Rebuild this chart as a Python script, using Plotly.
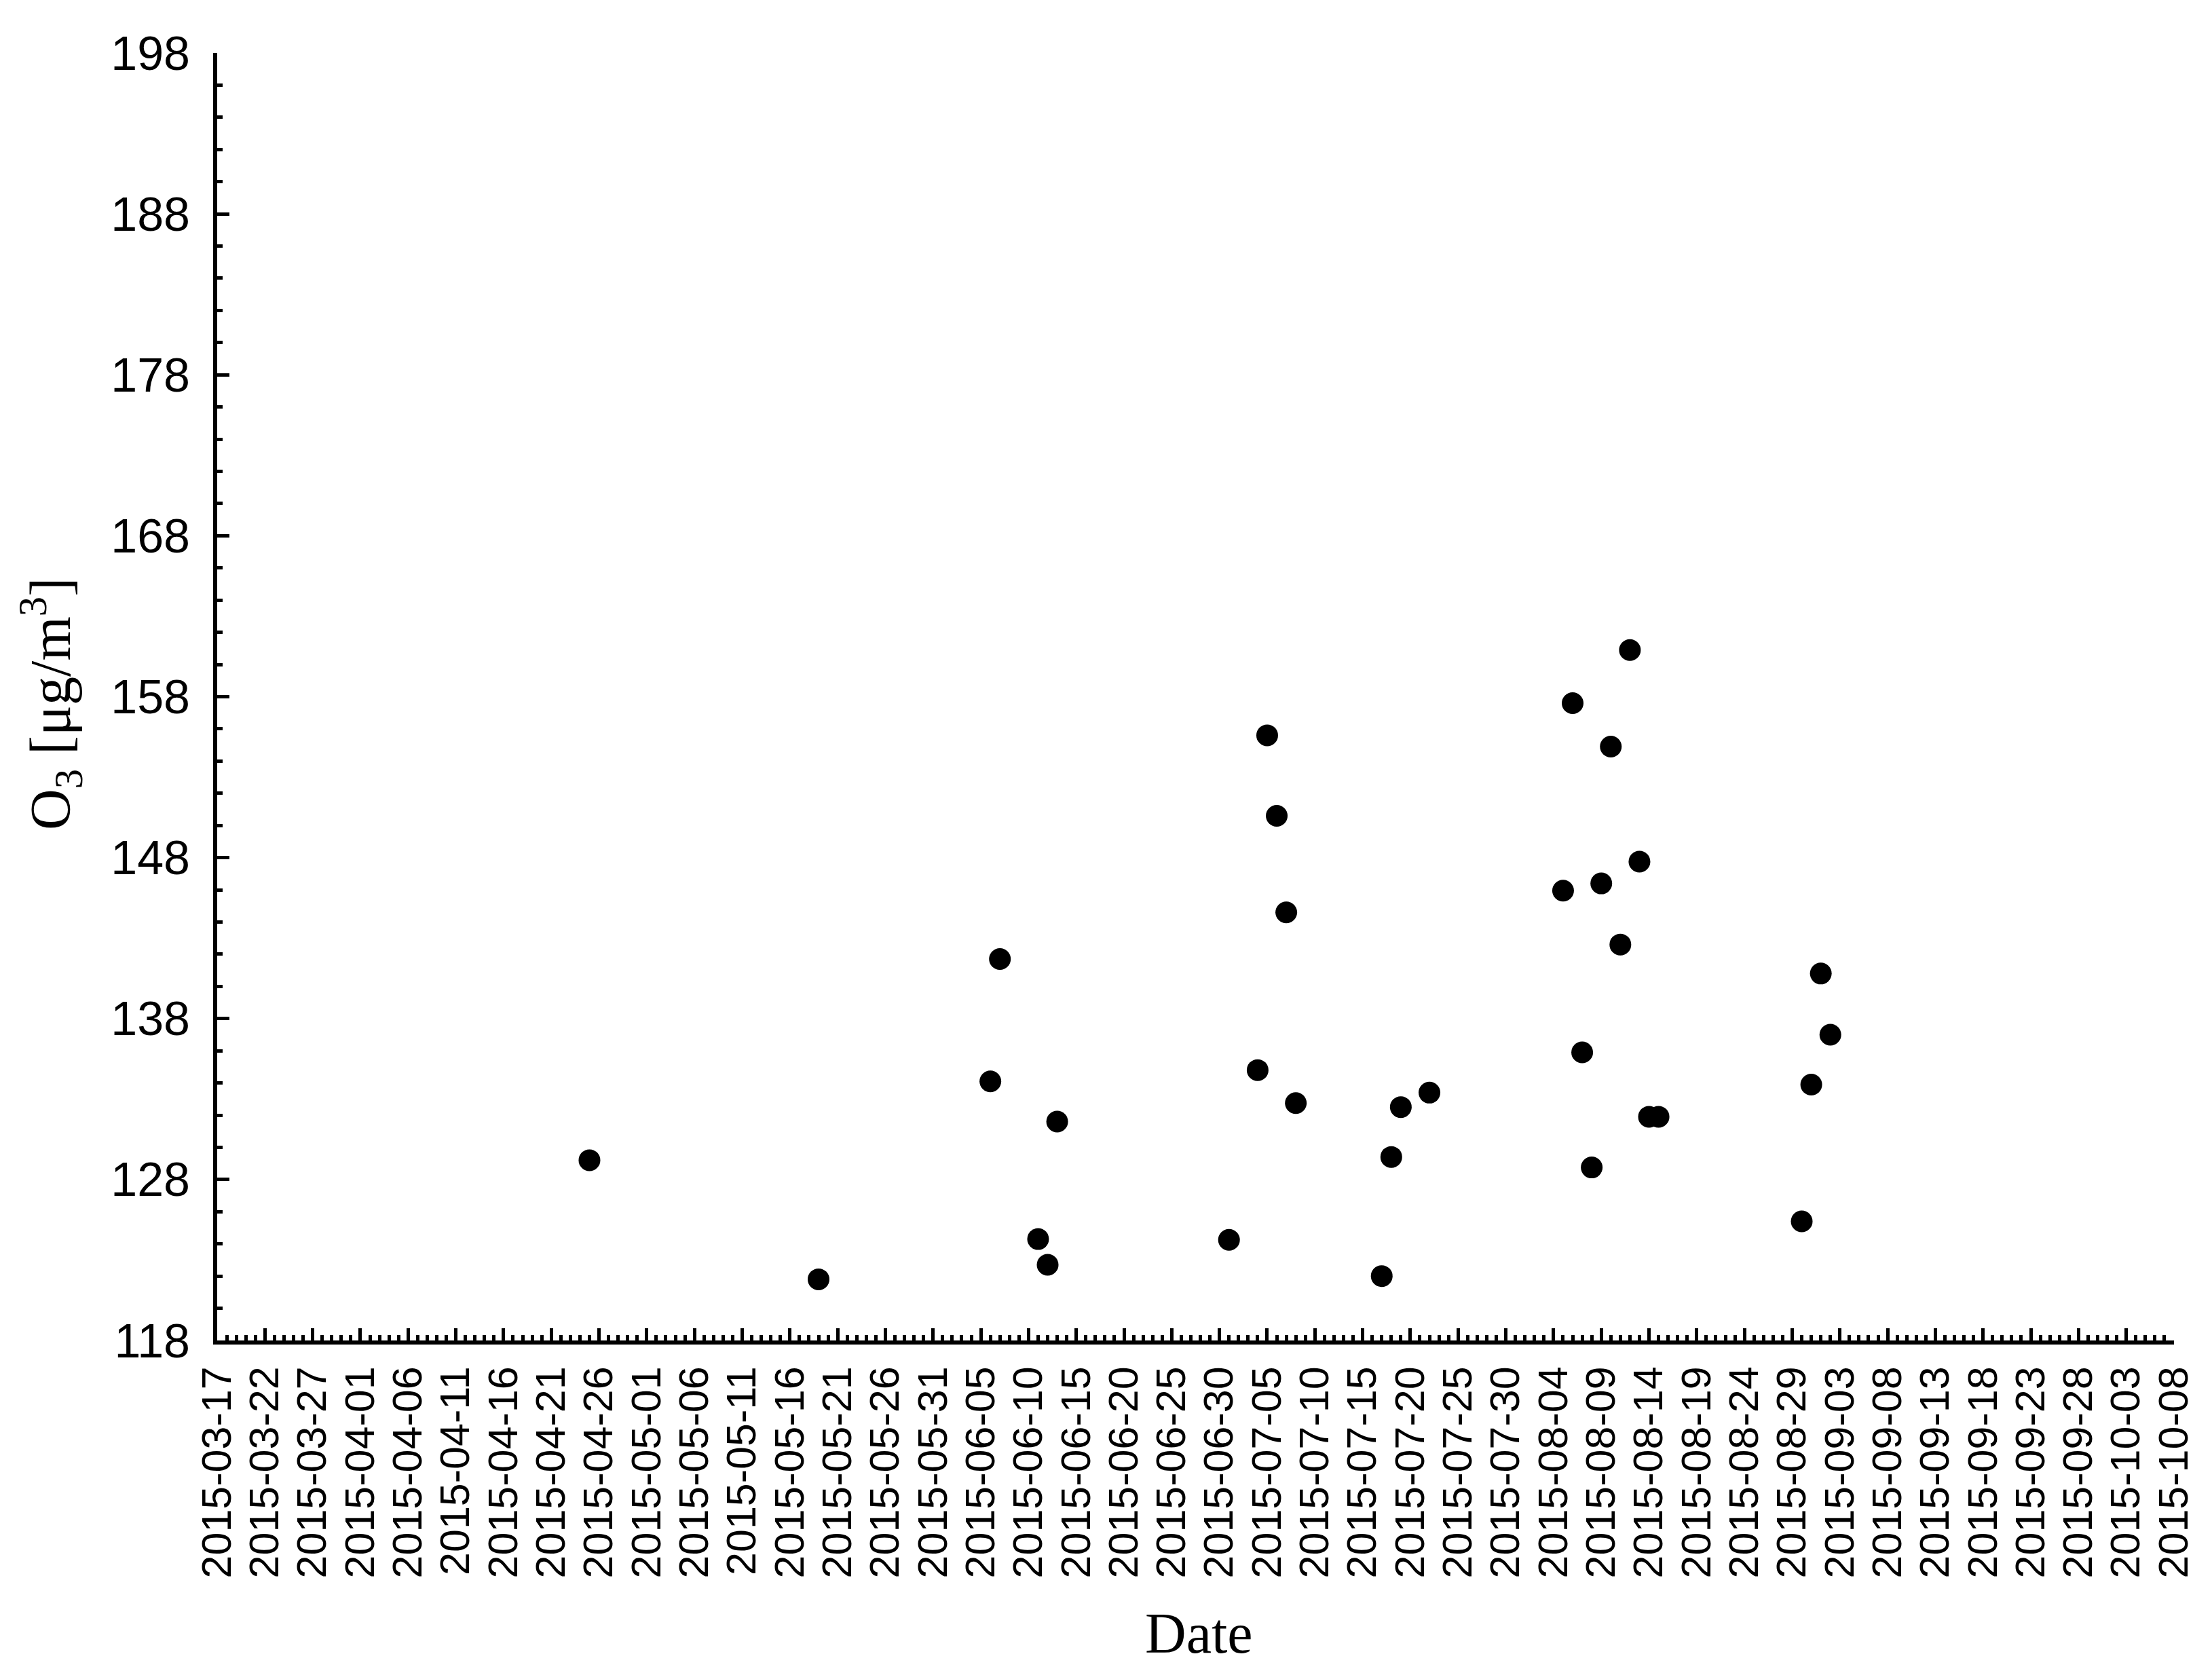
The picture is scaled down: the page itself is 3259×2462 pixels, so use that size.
import plotly.graph_objects as go

dates = ["2015-04-25", "2015-05-19", "2015-06-06", "2015-06-07", "2015-06-11", "2015-06-12",
         "2015-06-13", "2015-07-01", "2015-07-04", "2015-07-05", "2015-07-06", "2015-07-07",
         "2015-07-08", "2015-07-17", "2015-07-18", "2015-07-19", "2015-07-22", "2015-08-05",
         "2015-08-06", "2015-08-07", "2015-08-08", "2015-08-09", "2015-08-10", "2015-08-11",
         "2015-08-12", "2015-08-13", "2015-08-14", "2015-08-15", "2015-08-30", "2015-08-31",
         "2015-09-01", "2015-09-02"]
o3 = [129.2, 121.8, 134.1, 141.7, 124.3, 122.7,
      131.6, 124.25, 134.8, 155.6, 150.6, 144.6,
      132.75, 122.0, 129.4, 132.5, 133.4, 145.95,
      157.6, 135.9, 128.75, 146.4, 154.9, 142.6,
      160.9, 147.75, 131.9, 131.9, 125.4, 133.9,
      140.8, 137.0]

x_range = ["2015-03-17", "2015-10-08"]
y_range = [118, 198]

OFF = 8  # default body margin of the html page
W, H = 3259 - OFF, 2462 - OFF
ML, MT = 320 - OFF, 78 - OFF
MR = W + OFF - 3203
MB = H + OFF - 1975
PW = W - ML - MR
PH = H - MT - MB

fig = go.Figure()
fig.add_trace(go.Scatter(
    x=dates, y=o3, mode="markers",
    marker=dict(color="black", size=32, line=dict(width=0)),
    showlegend=False,
))

DAY = 86400000

fig.update_layout(
    width=W, height=H, autosize=False,
    margin=dict(l=ML, r=MR, t=MT, b=MB, pad=0),
    paper_bgcolor="white", plot_bgcolor="white",
    font=dict(family="Liberation Sans, Arial, sans-serif", color="black"),
    xaxis=dict(
        type="date", range=x_range,
        tick0="2015-03-17", dtick=5 * DAY, tickformat="%Y-%m-%d",
        tickangle=-90, tickfont=dict(size=61, family="Liberation Sans, Arial, sans-serif"),
        ticks="inside", ticklen=18, tickwidth=5, tickcolor="black",
        minor=dict(dtick=DAY, tick0="2015-03-17", ticks="inside", ticklen=8, tickwidth=5,
                   tickcolor="black", showgrid=False),
        showline=True, linecolor="black", linewidth=6,
        showgrid=False, zeroline=False, mirror=False,
        ticklabelstandoff=8,
    ),
    yaxis=dict(
        range=y_range, tick0=118, dtick=10,
        tickfont=dict(size=70, family="Liberation Sans, Arial, sans-serif"),
        ticks="inside", ticklen=18, tickwidth=5, tickcolor="black",
        minor=dict(dtick=2, tick0=118, ticks="inside", ticklen=8, tickwidth=5,
                   tickcolor="black", showgrid=False),
        showline=True, linecolor="black", linewidth=6,
        showgrid=False, zeroline=False, mirror=False,
        ticklabelstandoff=20,
    ),
    annotations=[
        dict(text="Date", xref="paper", yref="paper",
             x=(1766 - OFF - ML) / PW, y=-(2406 - OFF - (MT + PH)) / PH,
             xanchor="center", yanchor="middle", showarrow=False,
             font=dict(family="Liberation Serif, Times New Roman, serif", size=84, color="black")),
        dict(text="O<sub>3</sub> [μg/m<sup>3</sup>]", xref="paper", yref="paper",
             x=-(ML - (75 - OFF)) / PW, y=1 - (1037 - OFF - MT) / PH, textangle=-90,
             xanchor="center", yanchor="middle", showarrow=False,
             font=dict(family="Liberation Serif, Times New Roman, serif", size=84, color="black")),
    ],
)

fig.write_html("out.html")
